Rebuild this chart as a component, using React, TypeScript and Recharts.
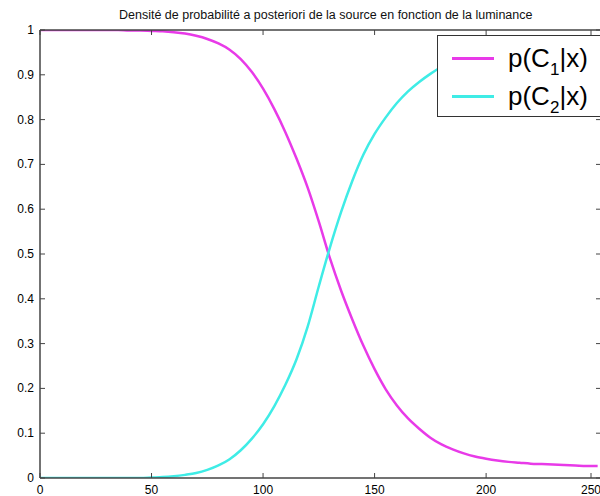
import { Legend, Line, LineChart, XAxis, YAxis } from "recharts";

// luminance values on the x axis
const luminance = [
  0, 5, 10, 15, 20, 25, 30, 35, 40, 45, 50, 55, 60, 65, 70, 75, 80, 85, 90, 95,
  100, 105, 110, 115, 120, 125, 130, 135, 140, 145, 150, 155, 160, 165, 170,
  175, 180, 185, 190, 195, 200, 205, 210, 215, 220, 225, 230, 235, 240, 245, 250,
];

// p(C1|x)
const pC1 = [
  1.0, 1.0, 1.0, 1.0, 1.0, 1.0, 1.0, 1.0, 0.999, 0.999, 0.998, 0.997, 0.995,
  0.992, 0.987, 0.98, 0.97, 0.956, 0.935, 0.906, 0.869, 0.824, 0.772, 0.713,
  0.648, 0.572, 0.49, 0.418, 0.354, 0.295, 0.243, 0.198, 0.162, 0.133, 0.11,
  0.09, 0.075, 0.064, 0.055, 0.048, 0.043, 0.039, 0.036, 0.034, 0.032, 0.031,
  0.03, 0.029, 0.028, 0.027, 0.027,
];

// p(C2|x)
const pC2 = [
  0.0, 0.0, 0.0, 0.0, 0.0, 0.0, 0.0, 0.0, 0.0, 0.0, 0.001, 0.002, 0.004,
  0.007, 0.011, 0.018, 0.028, 0.042, 0.062, 0.088, 0.12, 0.16, 0.208, 0.265,
  0.338, 0.428, 0.515, 0.594, 0.663, 0.722, 0.768, 0.805, 0.837, 0.863, 0.884,
  0.902, 0.918, 0.931, 0.942, 0.95, 0.956, 0.96, 0.963, 0.966, 0.968, 0.969,
  0.97, 0.971, 0.972, 0.973, 0.973,
];

const xTicks = [0, 50, 100, 150, 200, 250];
const yTicks = [0, 0.1, 0.2, 0.3, 0.4, 0.5, 0.6, 0.7, 0.8, 0.9, 1];

const title =
  "Densité de probabilité a posteriori de la source en fonction de la luminance";

const series = [
  { key: "c1", sub: "1", color: "#e83ae8" },
  { key: "c2", sub: "2", color: "#3fece6" },
];

const data = luminance.map((x, i) => ({ x, c1: pC1[i], c2: pC2[i] }));

const FONT = "'Liberation Sans', Arial, Helvetica, sans-serif";
const AXIS = "#444";
// the frame runs a little past the last tick, so the right border is cropped off
const X_DOMAIN = [0, 251.5];

const BottomTick = (props: any) => {
  const { x, y, payload } = props;
  return (
    <g>
      <line x1={x} y1={y} x2={x} y2={y - 5} stroke={AXIS} strokeWidth={1} />
      <text x={x} y={y + 16} textAnchor="middle" fontSize={12} fontFamily={FONT} fill="#000">
        {payload.value}
      </text>
    </g>
  );
};

const TopTick = (props: any) => {
  const { x, y } = props;
  return <line x1={x} y1={y} x2={x} y2={y + 5} stroke={AXIS} strokeWidth={1} />;
};

const LeftTick = (props: any) => {
  const { x, y, payload } = props;
  return (
    <g>
      <line x1={x} y1={y} x2={x + 5} y2={y} stroke={AXIS} strokeWidth={1} />
      <text x={x - 6} y={y + 4} textAnchor="end" fontSize={12} fontFamily={FONT} fill="#000">
        {payload.value}
      </text>
    </g>
  );
};

const RightTick = (props: any) => {
  const { x, y } = props;
  return <line x1={x} y1={y} x2={x - 5} y2={y} stroke={AXIS} strokeWidth={1} />;
};

const LegendBox = () => (
  <div
    style={{
      position: "absolute",
      left: 0,
      top: 0,
      width: 200,
      height: 82,
      border: "1px solid #333",
      background: "#fff",
      boxSizing: "border-box",
      fontFamily: FONT,
    }}
  >
    {series.map((s, i) => (
      <div key={s.key}>
        <div
          style={{
            position: "absolute",
            left: 14,
            top: 21 + i * 38,
            width: 42,
            height: 2.5,
            background: s.color,
          }}
        />
        <div
          style={{
            position: "absolute",
            left: 70,
            top: 8 + i * 38,
            fontSize: 26,
            lineHeight: "29px",
            whiteSpace: "nowrap",
            color: "#000",
          }}
        >
          p(C
          <span style={{ fontSize: 17, position: "relative", top: 8 }}>{s.sub}</span>
          |x)
        </div>
      </div>
    ))}
  </div>
);

const App = () => {
  return (
    <div
      style={{
        position: "absolute",
        left: 0,
        top: 0,
        width: 600,
        height: 496,
        overflow: "hidden",
        background: "#fff",
      }}
    >
      <div
        style={{
          position: "absolute",
          left: 119,
          top: 8,
          fontSize: 12.5,
          lineHeight: "15px",
          fontFamily: FONT,
          whiteSpace: "nowrap",
          color: "#111",
        }}
      >
        {title}
      </div>
      <LineChart
        width={603}
        height={496}
        data={data}
        margin={{ top: 29, right: 1, bottom: 0, left: 0 }}
      >
        <XAxis
          dataKey="x"
          type="number"
          domain={X_DOMAIN}
          ticks={xTicks}
          height={18}
          axisLine={{ stroke: AXIS, strokeWidth: 1.5 }}
          tickLine={false}
          tickSize={0}
          tickMargin={0}
          tick={<BottomTick />}
          allowDataOverflow
        />
        <XAxis
          xAxisId="top"
          orientation="top"
          dataKey="x"
          type="number"
          domain={X_DOMAIN}
          ticks={xTicks}
          height={1}
          axisLine={{ stroke: AXIS, strokeWidth: 1.5 }}
          tickLine={false}
          tickSize={0}
          tickMargin={0}
          tick={<TopTick />}
          allowDataOverflow
        />
        <YAxis
          type="number"
          domain={[0, 1]}
          ticks={yTicks}
          width={40}
          axisLine={{ stroke: AXIS, strokeWidth: 1.5 }}
          tickLine={false}
          tickSize={0}
          tickMargin={0}
          tick={<LeftTick />}
          allowDataOverflow
        />
        <YAxis
          yAxisId="right"
          orientation="right"
          type="number"
          domain={[0, 1]}
          ticks={yTicks}
          width={1}
          axisLine={{ stroke: AXIS, strokeWidth: 1.5 }}
          tickLine={false}
          tickSize={0}
          tickMargin={0}
          tick={<RightTick />}
          allowDataOverflow
        />
        {/* invisible series so the frame axes (top / right) get drawn */}
        <Line
          xAxisId="top"
          yAxisId="right"
          dataKey="c1"
          stroke="none"
          dot={false}
          legendType="none"
          isAnimationActive={false}
        />
        {series.map((s) => (
          <Line
            key={s.key}
            dataKey={s.key}
            type="monotone"
            stroke={s.color}
            strokeWidth={2.5}
            dot={false}
            isAnimationActive={false}
          />
        ))}
        <Legend
          layout="horizontal"
          verticalAlign="middle"
          align="center"
          wrapperStyle={{ left: 437, top: 35, width: 200, height: 82 }}
          content={<LegendBox />}
        />
      </LineChart>
    </div>
  );
};

export default App;
